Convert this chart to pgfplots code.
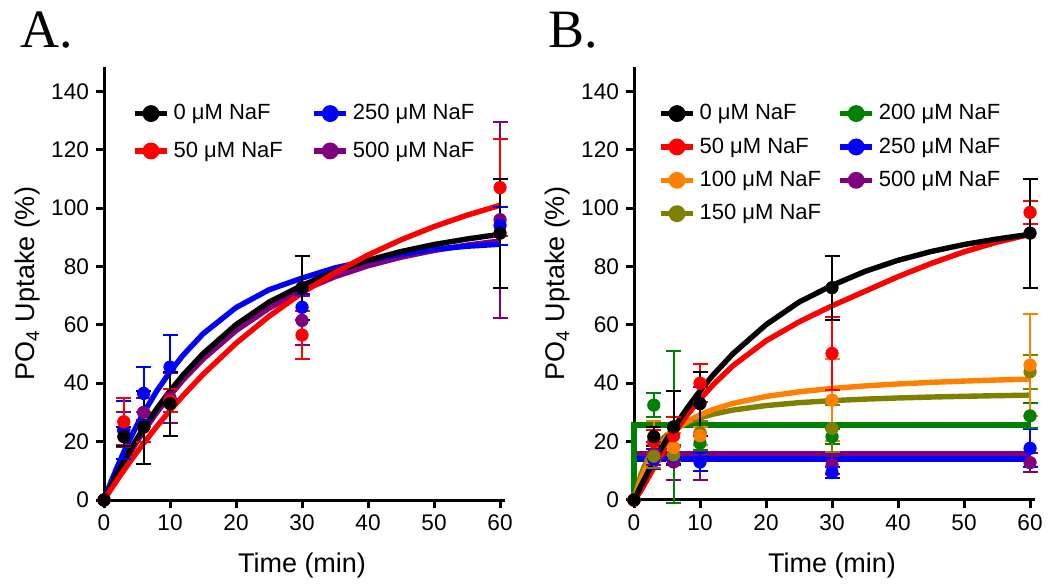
\documentclass[border=0pt]{standalone}
\usepackage{pgfplots}
\pgfplotsset{compat=1.18}
\usepackage{fontspec}
\setmainfont{Liberation Sans}
\newfontfamily\serifA{Liberation Serif}
\definecolor{cpurple}{RGB}{128,0,128}
\definecolor{corange}{RGB}{255,128,0}
\definecolor{colive}{RGB}{128,128,0}
\definecolor{cgreen}{RGB}{0,128,0}
\pgfplotsset{
  panel/.style={
    scale only axis, width=200.5pt, height=216.5pt,
    axis x line*=bottom, axis y line*=left,
    xmin=0, xmax=60.75, ymin=0, ymax=148.3,
    xtick={0,10,...,60}, ytick={0,20,...,140},
    tick align=outside, major tick length=4pt,
    axis line style={line width=1.5pt},
    every tick/.style={line width=1.5pt, black},
    tick label style={font=\fontsize{11.3}{13}\selectfont},
    /pgf/number format/assume math mode=true,
    label style={font=\fontsize{13.5}{16}\selectfont},
    xlabel={Time (min)},
    ylabel={PO\textsubscript{4} Uptake (\%)},
    xlabel style={at={(axis description cs:0.4938,0)}, anchor=center, yshift=-33pt},
    ylabel style={at={(axis description cs:0,0.5)}, anchor=center, yshift=38pt},
    clip=false,
    legend image code/.code={
      \draw[#1, mark=none] (0pt,0pt) -- (16pt,0pt);
      \fill[#1] (8pt,0pt) circle (2.9pt);
    },
    legend cell align=left,
    legend style={draw=none, fill=none, font=\fontsize{11}{13}\selectfont,
      /tikz/every even column/.append style={column sep=9pt}},
  },
  curve/.style={line width=2.7pt, no marks},
  pts/.style={only marks, mark=*, mark size=3.1pt,
    error bars/y dir=both, error bars/y explicit,
    error bars/error bar style={line width=1pt},
    error bars/error mark options={line width=1pt, mark size=3.75pt, rotate=90}},
}
\newcommand{\lt}[1]{\makebox[58pt][l]{#1}}
\begin{document}
\begin{tikzpicture}
\useasboundingbox (0,0) rectangle (525pt,292pt);
\node[anchor=base west, font=\serifA\fontsize{27}{30}\selectfont, inner sep=0pt] at (10pt,268pt) {A.};
\node[anchor=base west, font=\serifA\fontsize{27}{30}\selectfont, inner sep=0pt] at (274pt,268pt) {B.};

% ---------------- Panel A ----------------
\begin{axis}[panel, at={(52pt,42pt)}, anchor=south west,
  legend columns=2,
  legend style={at={(axis description cs:0,1)}, anchor=north west, xshift=11pt, yshift=-14.5pt,
    /tikz/row sep=5.5pt}]
\addlegendimage{black, line width=2.6pt}\addlegendentry{\lt{0 μM NaF}}
\addlegendimage{blue, line width=2.6pt}\addlegendentry{\lt{250 μM NaF}}
\addlegendimage{red, line width=2.6pt}\addlegendentry{\lt{50 μM NaF}}
\addlegendimage{cpurple, line width=2.6pt}\addlegendentry{\lt{500 μM NaF}}
% curves
\addplot[cpurple, curve, forget plot] coordinates {(0,0)(1,4.41)(2,8.60)(3,12.60)(4,16.42)(5,20.06)(6,23.52)(8,29.98)(10,35.83)(12,41.16)(15,48.24)(20,58.01)(25,65.69)(30,71.73)(35,76.48)(40,80.22)(45,83.16)(50,85.47)(55,87.29)(60,88.72)};
\addplot[blue, curve, forget plot] coordinates {(0,0)(1,5.85)(2,11.32)(3,16.42)(4,21.19)(5,25.65)(6,29.81)(8,37.34)(10,43.91)(12,49.64)(15,56.91)(20,65.9)(25,72)(30,76)(35,79.5)(40,82)(45,84.2)(50,85.9)(55,86.9)(60,87.6)};
\addplot[black, curve, forget plot] coordinates {(0,0)(1,4.64)(2,9.04)(3,13.23)(4,17.22)(5,21.01)(6,24.62)(8,31.32)(10,37.38)(12,42.86)(15,50.12)(20,60.05)(25,67.78)(30,73.5)(35,78.3)(40,82.1)(45,85.1)(50,87.5)(55,89.4)(60,91)};
\addplot[red, curve, forget plot] coordinates {(0,0)(1,3.48)(2,6.86)(3,10.14)(4,13.33)(5,16.43)(6,19.44)(8,25.21)(10,30.66)(12,35.80)(15,42.99)(20,53.67)(25,62.92)(30,70.94)(35,77.88)(40,83.90)(45,89.11)(50,93.64)(55,97.55)(60,100.94)};
% data
\addplot[forget plot, cpurple, pts] table[x=x, y=y, y error=e] {
x y e
0 0 0
3 24 6
6 30 5
10 35 8.5
30 61.5 8.5
60 96 33.6
};
\addplot[forget plot, blue, pts] table[x=x, y=y, y error=e] {
x y e
0 0 0
3 24 10
6 36.5 9.2
10 45.5 11
30 66 4.5
60 94 6.5
};
\addplot[forget plot, red, pts] table[x=x, y=y, y error=e] {
x y e
0 0 0
3 26.8 8
6 25 5
10 34 4
30 56.5 8.3
60 107 16.5
};
\addplot[forget plot, black, pts] table[x=x, y=y, y error=e] {
x y e
0 0 0
3 21.7 3.2
6 25 12.5
10 33 11
30 72.7 11
60 91.4 18.7
};
\end{axis}

% ---------------- Panel B ----------------
\begin{axis}[panel, at={(317pt,42pt)}, anchor=south west,
  legend columns=2,
  legend style={at={(axis description cs:0,1)}, anchor=north west, xshift=9pt, yshift=-14.5pt,
    /tikz/row sep=3.5pt}]
\addlegendimage{black, line width=2.6pt}\addlegendentry{\lt{0 μM NaF}}
\addlegendimage{cgreen, line width=2.6pt}\addlegendentry{\lt{200 μM NaF}}
\addlegendimage{red, line width=2.6pt}\addlegendentry{\lt{50 μM NaF}}
\addlegendimage{blue, line width=2.6pt}\addlegendentry{\lt{250 μM NaF}}
\addlegendimage{corange, line width=2.6pt}\addlegendentry{\lt{100 μM NaF}}
\addlegendimage{cpurple, line width=2.6pt}\addlegendentry{\lt{500 μM NaF}}
\addlegendimage{colive, line width=2.6pt}\addlegendentry{\lt{150 μM NaF}}
% curves
\addplot[cpurple, curve, forget plot] coordinates {(0,0)(0,16)(60,16)};
\addplot[blue, curve, forget plot] coordinates {(0,0)(0,14)(60,14)};
\addplot[cgreen, curve, forget plot] coordinates {(0,0)(0,25.7)(60,25.7)};
\addplot[colive, curve, forget plot] coordinates {(0,0)(1,8.44)(2,13.82)(3,17.54)(4,20.27)(5,22.35)(6,24.0)(8,26.43)(10,28.15)(12,29.42)(15,30.81)(20,32.34)(25,33.33)(30,34.03)(35,34.55)(40,34.94)(45,35.26)(50,35.51)(55,35.73)(60,35.91)};
\addplot[corange, curve, forget plot] coordinates {(0,0)(1,6.96)(2,12.07)(3,15.97)(4,19.05)(5,21.54)(6,23.60)(8,26.81)(10,29.18)(12,31.01)(15,33.09)(20,35.46)(25,37.06)(30,38.21)(35,39.07)(40,39.74)(45,40.29)(50,40.73)(55,41.10)(60,41.41)};
\addplot[red, curve, forget plot] coordinates {(0,0)(1,3)(2,7)(3,11)(4,15)(5,19)(6,22.5)(8,29)(10,34.5)(12,39.5)(15,46)(20,54.5)(25,61)(30,66.5)(35,71.5)(40,76.5)(45,81)(50,85)(55,88.3)(60,91)};
\addplot[black, curve, forget plot] coordinates {(0,0)(1,4.64)(2,9.04)(3,13.23)(4,17.22)(5,21.01)(6,24.62)(8,31.32)(10,37.38)(12,42.86)(15,50.12)(20,60.05)(25,67.78)(30,73.5)(35,78.3)(40,82.1)(45,85.1)(50,87.5)(55,89.4)(60,91)};
% data
\addplot[forget plot, cpurple, pts] table[x=x, y=y, y error=e] {
x y e
0 0 0
3 16 4
6 13 6
10 22.8 16
30 12 3
60 12.8 3.3
};
\addplot[forget plot, blue, pts] table[x=x, y=y, y error=e] {
x y e
0 0 0
3 14 3.3
6 15 3
10 13 3
30 9.4 2
60 17.7 6.5
};
\addplot[forget plot, cgreen, pts] table[x=x, y=y, y error=e] {
x y e
0 0 0
3 32.5 4
6 25 26
10 19.5 2.5
30 21.7 2.5
60 28.8 4.3
};
\addplot[forget plot, colive, pts] table[x=x, y=y, y error=e] {
x y e
0 0 0
3 15 4
6 15.4 2.6
10 23 4
30 24.5 8
60 43.9 5.9
};
\addplot[forget plot, corange, pts] table[x=x, y=y, y error=e] {
x y e
0 0 0
3 20 7
6 18 5
10 22 3
30 34.2 14
60 46.2 17.5
};
\addplot[forget plot, red, pts] table[x=x, y=y, y error=e] {
x y e
0 0 0
3 20 4
6 22 6.5
10 40 6.5
30 50.2 12.5
60 98.5 4
};
\addplot[forget plot, black, pts] table[x=x, y=y, y error=e] {
x y e
0 0 0
3 21.7 3.2
6 25 12.5
10 33 11
30 72.7 11
60 91.4 18.7
};
\end{axis}
\end{tikzpicture}
\end{document}
